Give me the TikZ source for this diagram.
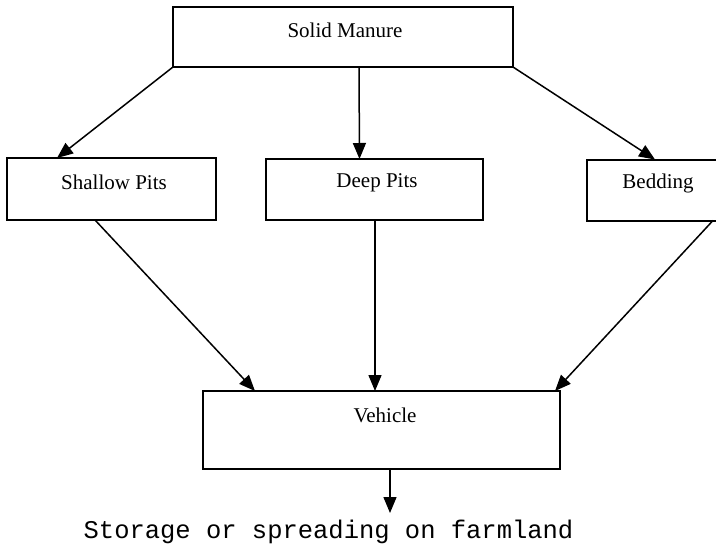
\documentclass[tikz,border=0pt]{standalone}
\usepackage{fontspec}
\setmainfont{Liberation Serif}
\newfontfamily\monofont{Liberation Mono}
\usetikzlibrary{arrows.meta}
\tikzset{
  box/.style={draw=black, line width=2pt, fill=white, inner sep=0pt, outer sep=0pt, anchor=center},
  lbl/.style={font=\fontsize{21pt}{24pt}\selectfont, inner sep=0pt, anchor=center},
  conn/.style={line width=1.5pt, -{Triangle[length=16pt,width=13pt]}},
}
\begin{document}
\begin{tikzpicture}[x=1pt,y=-1pt]
\useasboundingbox (0,0) rectangle (716,544);
\clip (0,0) rectangle (716,544);
% boxes
\node[box, minimum width=340pt, minimum height=60pt] (sm) at (343,37) {};
\node[box, minimum width=209pt, minimum height=62pt] (sp) at (111.5,189) {};
\node[box, minimum width=217pt, minimum height=61pt] (dp) at (374.5,189.5) {};
\node[box, minimum width=143pt, minimum height=61pt] (bd) at (658.5,190) {};
\node[box, minimum width=357pt, minimum height=78pt] (vh) at (381.5,430) {};
% labels
\node[lbl] (smt) at (345,30) {Solid Manure};
\node[lbl] (spt) at (114,182) {Shallow Pits};
\node[lbl] (dpt) at (377,183) {Deep Pits};
\node[lbl] (bdt) at (658,183) {Bedding};
\node[lbl] (vht) at (385,415) {Vehicle};
\node[font=\monofont\fontsize{25.5pt}{28pt}\selectfont, inner sep=0pt, anchor=base] (out) at (328.5,538) {Storage or spreading on farmland};
\coordinate (outtop) at (390,513);
% connectors
\draw[conn] (sm.south west) -- ([xshift=50pt]sp.north west);
\draw[conn] ([xshift=16pt]sm.south) -- ([xshift=-15pt]dp.north);
\draw[conn] (sm.south east) -- ([xshift=68pt]bd.north west);
\draw[conn] ([xshift=88pt]sp.south west) -- ([xshift=52pt]vh.north west);
\draw[conn] ([xshift=109pt]dp.south west) -- ([xshift=172pt]vh.north west);
\draw[conn] ([xshift=126pt]bd.south west) -- ([xshift=-5pt]vh.north east);
\draw[conn] ([xshift=187pt]vh.south west) -- (outtop);
\end{tikzpicture}
\end{document}
